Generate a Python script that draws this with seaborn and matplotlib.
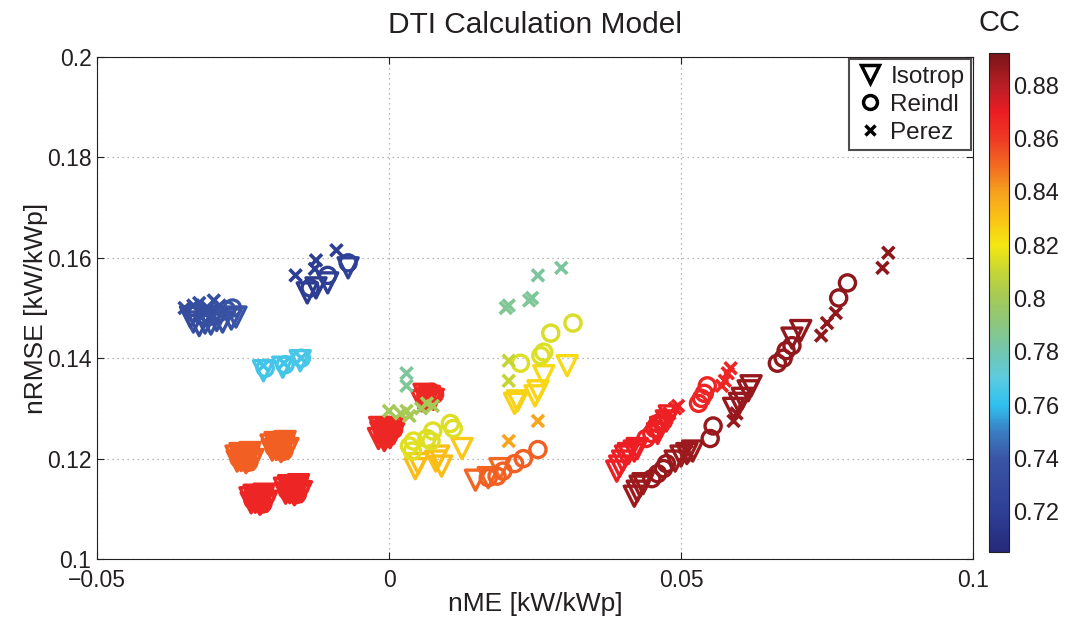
import numpy as np
import pandas as pd
import matplotlib
matplotlib.use("Agg")
import matplotlib.pyplot as plt
import seaborn as sns
from matplotlib.colors import LinearSegmentedColormap, Normalize
from matplotlib.lines import Line2D
from matplotlib.cm import ScalarMappable

# ---------------- data: (nME, nRMSE, CC) ----------------
isotrop = [
    # dark blue group
    (-0.0335, 0.1472, 0.735), (-0.0325, 0.1465, 0.733), (-0.0315, 0.1470, 0.734), (-0.0305, 0.1468, 0.735),
    (-0.0295, 0.1475, 0.736), (-0.0285, 0.1472, 0.737), (-0.0270, 0.1478, 0.738), (-0.0262, 0.1482, 0.739),
    (-0.0340, 0.1482, 0.733), (-0.0310, 0.1480, 0.735),
    (-0.0140, 0.1530, 0.718), (-0.0125, 0.1540, 0.718), (-0.0105, 0.1550, 0.720), (-0.0070, 0.1580, 0.722),
    (-0.0215, 0.1375, 0.765), (-0.0182, 0.1382, 0.765), (-0.0152, 0.1395, 0.766),
    # orange blobs
    (-0.0260, 0.1195, 0.852), (-0.0250, 0.1200, 0.852), (-0.0240, 0.1205, 0.852), (-0.0233, 0.1198, 0.852),
    (-0.0255, 0.1210, 0.852), (-0.0245, 0.1192, 0.852), (-0.0238, 0.1212, 0.852), (-0.0262, 0.1205, 0.852),
    (-0.0253, 0.1196, 0.852), (-0.0247, 0.1196, 0.852), (-0.0241, 0.1196, 0.852),
    (-0.0253, 0.1202, 0.852), (-0.0247, 0.1202, 0.852), (-0.0241, 0.1202, 0.852),
    (-0.0253, 0.1208, 0.852), (-0.0247, 0.1208, 0.852), (-0.0241, 0.1208, 0.852),
    (-0.0200, 0.1217, 0.852), (-0.0190, 0.1222, 0.852), (-0.0180, 0.1227, 0.852), (-0.0173, 0.1220, 0.852),
    (-0.0195, 0.1232, 0.852), (-0.0185, 0.1214, 0.852), (-0.0178, 0.1234, 0.852), (-0.0202, 0.1227, 0.852),
    (-0.0193, 0.1218, 0.852), (-0.0187, 0.1218, 0.852), (-0.0181, 0.1218, 0.852),
    (-0.0193, 0.1224, 0.852), (-0.0187, 0.1224, 0.852), (-0.0181, 0.1224, 0.852),
    (-0.0193, 0.1230, 0.852), (-0.0187, 0.1230, 0.852), (-0.0181, 0.1230, 0.852),
    # red blobs
    (-0.0236, 0.1112, 0.867), (-0.0226, 0.1117, 0.867), (-0.0216, 0.1122, 0.867), (-0.0209, 0.1115, 0.867),
    (-0.0231, 0.1127, 0.867), (-0.0221, 0.1109, 0.867), (-0.0214, 0.1129, 0.867), (-0.0238, 0.1122, 0.867),
    (-0.0229, 0.1113, 0.867), (-0.0223, 0.1113, 0.867), (-0.0217, 0.1113, 0.867),
    (-0.0229, 0.1119, 0.867), (-0.0223, 0.1119, 0.867), (-0.0217, 0.1119, 0.867),
    (-0.0229, 0.1125, 0.867), (-0.0223, 0.1125, 0.867), (-0.0217, 0.1125, 0.867),
    (-0.0177, 0.1131, 0.867), (-0.0167, 0.1136, 0.867), (-0.0157, 0.1141, 0.867), (-0.0150, 0.1134, 0.867),
    (-0.0172, 0.1146, 0.867), (-0.0162, 0.1128, 0.867), (-0.0155, 0.1148, 0.867), (-0.0179, 0.1141, 0.867),
    (-0.0170, 0.1132, 0.867), (-0.0164, 0.1132, 0.867), (-0.0158, 0.1132, 0.867),
    (-0.0170, 0.1138, 0.867), (-0.0164, 0.1138, 0.867), (-0.0158, 0.1138, 0.867),
    (-0.0170, 0.1144, 0.867), (-0.0164, 0.1144, 0.867), (-0.0158, 0.1144, 0.867),
    # around zero
    (-0.0018, 0.1240, 0.866), (-0.0008, 0.1236, 0.866), (0.0002, 0.1242, 0.866), (0.0008, 0.1250, 0.866),
    (-0.0014, 0.1252, 0.866), (-0.0004, 0.1258, 0.866), (0.0006, 0.1262, 0.866), (-0.0016, 0.1262, 0.866),
    (-0.0011, 0.1243, 0.866), (-0.0005, 0.1243, 0.866), (0.0001, 0.1243, 0.866),
    (-0.0011, 0.1249, 0.866), (-0.0005, 0.1249, 0.866), (0.0001, 0.1249, 0.866),
    (-0.0011, 0.1255, 0.866), (-0.0005, 0.1255, 0.866), (0.0001, 0.1255, 0.866),
    (0.0056, 0.1315, 0.866), (0.0066, 0.1320, 0.866), (0.0076, 0.1318, 0.866), (0.0060, 0.1328, 0.866),
    (0.0063, 0.1320, 0.866), (0.0069, 0.1324, 0.866), (0.0066, 0.1316, 0.866),
    (0.0045, 0.1180, 0.832), (0.0050, 0.1190, 0.832), (0.0080, 0.1195, 0.831), (0.0085, 0.1205, 0.831),
    (0.0090, 0.1185, 0.832), (0.0125, 0.1220, 0.828),
    (0.0148, 0.1157, 0.851), (0.0170, 0.1162, 0.851), (0.0190, 0.1180, 0.850),
    (0.0215, 0.1310, 0.826), (0.0220, 0.1315, 0.826), (0.0250, 0.1325, 0.825), (0.0255, 0.1335, 0.825),
    (0.0265, 0.1365, 0.824), (0.0305, 0.1385, 0.824),
    # red chain
    (0.0390, 0.1175, 0.869), (0.0395, 0.1185, 0.869), (0.0400, 0.1195, 0.869), (0.0405, 0.1205, 0.869),
    (0.0410, 0.1210, 0.869), (0.0420, 0.1215, 0.869), (0.0425, 0.1220, 0.869), (0.0460, 0.1250, 0.868),
    (0.0465, 0.1262, 0.868), (0.0475, 0.1275, 0.868), (0.0480, 0.1285, 0.868),
    # dark red chain
    (0.0420, 0.1125, 0.885), (0.0425, 0.1135, 0.885), (0.0430, 0.1145, 0.885), (0.0435, 0.1150, 0.885),
    (0.0490, 0.1195, 0.885), (0.0500, 0.1205, 0.885), (0.0510, 0.1210, 0.885), (0.0520, 0.1215, 0.885),
    (0.0590, 0.1300, 0.886), (0.0600, 0.1310, 0.886), (0.0605, 0.1320, 0.886), (0.0615, 0.1335, 0.886),
    (0.0620, 0.1345, 0.886), (0.0690, 0.1440, 0.887), (0.0705, 0.1455, 0.887),
]

reindl = [
    (-0.0332, 0.1490, 0.734), (-0.0318, 0.1486, 0.734), (-0.0305, 0.1484, 0.735), (-0.0292, 0.1490, 0.736),
    (-0.0278, 0.1496, 0.738), (-0.0268, 0.1500, 0.739),
    (-0.0135, 0.1540, 0.719), (-0.0105, 0.1565, 0.720), (-0.0070, 0.1590, 0.722),
    (-0.0212, 0.1380, 0.765), (-0.0178, 0.1387, 0.765), (-0.0150, 0.1400, 0.766),
    (-0.0250, 0.1203, 0.852), (-0.0242, 0.1197, 0.852), (-0.0235, 0.1208, 0.852), (-0.0257, 0.1200, 0.852),
    (-0.0246, 0.1212, 0.852), (-0.0240, 0.1193, 0.852),
    (-0.0190, 0.1225, 0.852), (-0.0182, 0.1219, 0.852), (-0.0175, 0.1230, 0.852), (-0.0197, 0.1222, 0.852),
    (-0.0186, 0.1234, 0.852), (-0.0180, 0.1215, 0.852),
    (-0.0226, 0.1120, 0.867), (-0.0218, 0.1114, 0.867), (-0.0211, 0.1125, 0.867), (-0.0233, 0.1117, 0.867),
    (-0.0222, 0.1129, 0.867), (-0.0216, 0.1110, 0.867),
    (-0.0167, 0.1139, 0.867), (-0.0159, 0.1133, 0.867), (-0.0152, 0.1144, 0.867), (-0.0174, 0.1136, 0.867),
    (-0.0163, 0.1148, 0.867), (-0.0157, 0.1129, 0.867),
    (-0.0010, 0.1245, 0.866), (0.0000, 0.1250, 0.866), (0.0008, 0.1258, 0.866), (-0.0012, 0.1258, 0.866),
    (0.0063, 0.1325, 0.866), (0.0073, 0.1332, 0.866), (0.0078, 0.1328, 0.866),
    (0.0035, 0.1225, 0.816), (0.0040, 0.1215, 0.816), (0.0065, 0.1240, 0.815), (0.0075, 0.1255, 0.815),
    (0.0072, 0.1235, 0.815), (0.0105, 0.1270, 0.815), (0.0110, 0.1260, 0.815), (0.0042, 0.1235, 0.816),
    (0.0170, 0.1162, 0.852), (0.0185, 0.1165, 0.852), (0.0195, 0.1175, 0.852), (0.0215, 0.1190, 0.852),
    (0.0230, 0.1200, 0.852), (0.0255, 0.1218, 0.852),
    (0.0225, 0.1390, 0.815), (0.0260, 0.1405, 0.815), (0.0265, 0.1412, 0.815), (0.0277, 0.1450, 0.814),
    (0.0315, 0.1470, 0.814),
    (0.0440, 0.1240, 0.868), (0.0450, 0.1250, 0.868), (0.0455, 0.1260, 0.868), (0.0460, 0.1270, 0.868),
    (0.0470, 0.1275, 0.868), (0.0530, 0.1310, 0.867), (0.0535, 0.1320, 0.867), (0.0540, 0.1330, 0.867),
    (0.0545, 0.1345, 0.867),
    (0.0450, 0.1160, 0.886), (0.0460, 0.1170, 0.886), (0.0470, 0.1180, 0.886), (0.0475, 0.1190, 0.886),
    (0.0550, 0.1240, 0.886), (0.0555, 0.1265, 0.886), (0.0665, 0.1390, 0.887), (0.0675, 0.1400, 0.887),
    (0.0680, 0.1415, 0.887), (0.0690, 0.1425, 0.887), (0.0770, 0.1520, 0.888), (0.0785, 0.1550, 0.888),
]

perez = [
    (-0.0350, 0.1500, 0.733), (-0.0335, 0.1505, 0.733), (-0.0325, 0.1510, 0.734), (-0.0310, 0.1500, 0.734),
    (-0.0300, 0.1515, 0.734), (-0.0290, 0.1505, 0.735),
    (-0.0160, 0.1565, 0.719), (-0.0125, 0.1595, 0.719), (-0.0127, 0.1578, 0.719), (-0.0090, 0.1615, 0.720),
    (-0.0215, 0.1385, 0.764), (-0.0180, 0.1390, 0.764), (-0.0150, 0.1400, 0.765),
    (-0.0248, 0.1203, 0.852), (-0.0240, 0.1207, 0.852), (-0.0252, 0.1198, 0.852), (-0.0236, 0.1200, 0.852),
    (-0.0188, 0.1225, 0.852), (-0.0180, 0.1229, 0.852), (-0.0192, 0.1220, 0.852), (-0.0176, 0.1222, 0.852),
    (-0.0224, 0.1120, 0.867), (-0.0216, 0.1124, 0.867), (-0.0228, 0.1115, 0.867), (-0.0212, 0.1117, 0.867),
    (-0.0165, 0.1139, 0.867), (-0.0157, 0.1143, 0.867), (-0.0169, 0.1134, 0.867), (-0.0153, 0.1136, 0.867),
    (-0.0005, 0.1250, 0.866), (0.0005, 0.1255, 0.866),
    (0.0068, 0.1330, 0.866), (0.0060, 0.1310, 0.866),
    (0.0000, 0.1295, 0.800), (0.0020, 0.1290, 0.801), (0.0035, 0.1285, 0.801), (0.0055, 0.1300, 0.800),
    (0.0065, 0.1310, 0.800), (0.0075, 0.1305, 0.801), (0.0030, 0.1295, 0.801),
    (0.0030, 0.1370, 0.784), (0.0030, 0.1345, 0.785),
    (0.0205, 0.1235, 0.838), (0.0255, 0.1275, 0.838),
    (0.0205, 0.1395, 0.810), (0.0205, 0.1355, 0.810),
    (0.0200, 0.1500, 0.786), (0.0205, 0.1505, 0.786), (0.0240, 0.1515, 0.785), (0.0245, 0.1520, 0.785),
    (0.0255, 0.1565, 0.784), (0.0295, 0.1580, 0.784),
    (0.0480, 0.1290, 0.868), (0.0490, 0.1300, 0.868), (0.0495, 0.1305, 0.868), (0.0570, 0.1345, 0.867),
    (0.0575, 0.1355, 0.867), (0.0580, 0.1370, 0.867), (0.0585, 0.1380, 0.867),
    (0.0505, 0.1205, 0.885), (0.0510, 0.1215, 0.885), (0.0590, 0.1275, 0.886), (0.0595, 0.1290, 0.886),
    (0.0740, 0.1445, 0.887), (0.0750, 0.1470, 0.887), (0.0765, 0.1490, 0.887), (0.0845, 0.1580, 0.888),
    (0.0855, 0.1610, 0.888),
]

models = ["Isotrop", "Reindl", "Perez"]
x_ticks = [-0.05, 0, 0.05, 0.1]
x_labels = ["\u22120.05", "0", "0.05", "0.1"]
y_ticks = [0.1, 0.12, 0.14, 0.16, 0.18, 0.2]
y_labels = ["0.1", "0.12", "0.14", "0.16", "0.18", "0.2"]
cb_ticks = [0.72, 0.74, 0.76, 0.78, 0.8, 0.82, 0.84, 0.86, 0.88]
cb_labels = ["0.72", "0.74", "0.76", "0.78", "0.8", "0.82", "0.84", "0.86", "0.88"]
cc_min, cc_max = 0.705, 0.892

# ---------------- style ----------------
cmap = LinearSegmentedColormap.from_list("cc", [
    (0.000, "#262a7a"), (0.080, "#2e3f95"), (0.187, "#3a55a5"),
    (0.240, "#3a7dc2"), (0.294, "#30c0ef"), (0.348, "#5ccbe0"),
    (0.401, "#73c6b0"), (0.455, "#8cc780"), (0.508, "#a3c95a"),
    (0.561, "#c5d535"), (0.615, "#f4e813"), (0.668, "#fbc315"),
    (0.722, "#f6a01e"), (0.775, "#f26b22"), (0.829, "#ee3a25"),
    (0.882, "#ed1c24"), (0.936, "#b81e25"), (1.000, "#7a1416")])
norm = Normalize(cc_min, cc_max)

sns.set_theme(style="white")
plt.rcParams["font.family"] = ["Liberation Sans", "DejaVu Sans"]
txt = "#231f20"

fig = plt.figure(figsize=(10.67, 6.18), dpi=100)
ax = fig.add_axes([97/1067, 1-559/618, 876/1067, 502/618])

frames = []
for m, pts in zip(models, [isotrop, reindl, perez]):
    d = pd.DataFrame(pts, columns=["x", "y", "cc"])
    d["model"] = m
    frames.append(d)
df = pd.concat(frames, ignore_index=True)

spec = {"Isotrop": ("v", 210, 2.4), "Reindl": ("o", 135, 2.4), "Perez": ("x", 75, 2.6)}
for m in models:
    sub = df[df["model"] == m]
    mk, s, lw = spec[m]
    n0 = len(ax.collections)
    sns.scatterplot(data=sub, x="x", y="y", hue="cc", palette=cmap, hue_norm=norm,
                    marker=mk, s=s, linewidth=lw, legend=False, ax=ax)
    coll = ax.collections[n0]
    cols = cmap(norm(sub["cc"].to_numpy()))
    coll.set_facecolors("none")
    coll.set_edgecolors(cols)
    coll.set_linewidths(lw)

ax.set_xlim(-0.05, 0.1)
ax.set_ylim(0.1, 0.2)
ax.set_xticks(x_ticks)
ax.set_xticklabels(x_labels)
ax.set_yticks(y_ticks)
ax.set_yticklabels(y_labels)
ax.tick_params(direction="in", length=5, width=0.8, colors=txt, labelsize=16.5,
               top=True, right=True, bottom=True, left=True)
ax.tick_params(axis="x", pad=7)
ax.tick_params(axis="y", pad=4)
ax.grid(True, linestyle=(0, (1, 3)), color="#a0a0a0", linewidth=0.9)
for sp in ax.spines.values():
    sp.set_visible(True)
    sp.set_color(txt)
    sp.set_linewidth(0.8)
ax.set_xlabel("nME [kW/kWp]", fontsize=19, color=txt, labelpad=0)
ax.set_ylabel("nRMSE [kW/kWp]", fontsize=19, color=txt, labelpad=-1)
ax.set_title("DTI Calculation Model", fontsize=21.5, color=txt, pad=17)

handles = [Line2D([], [], marker="v", linestyle="none", markerfacecolor="none",
                  markeredgecolor="black", markeredgewidth=2.5, markersize=13),
           Line2D([], [], marker="o", linestyle="none", markerfacecolor="none",
                  markeredgecolor="black", markeredgewidth=2.5, markersize=10),
           Line2D([], [], marker="x", linestyle="none", color="black",
                  markeredgewidth=2.5, markersize=7.5)]
leg = ax.legend(handles, models, loc="upper right", fontsize=17.5, frameon=True,
                fancybox=False, borderpad=0.25, handletextpad=0.25, labelspacing=0.25,
                handlelength=1.2, borderaxespad=0.1)
leg.get_frame().set_edgecolor(txt)
leg.get_frame().set_linewidth(1.5)
for t in leg.get_texts():
    t.set_color(txt)

cax = fig.add_axes([989/1067, 1-552/618, 20/1067, 499/618])
sm = ScalarMappable(norm=norm, cmap=cmap)
cb = fig.colorbar(sm, cax=cax)
cb.set_ticks(cb_ticks)
cb.set_ticklabels(cb_labels)
cax.tick_params(direction="in", length=4, colors=txt, labelsize=17, pad=3)
cb.outline.set_edgecolor(txt)
cb.outline.set_linewidth(0.8)
cax.set_title("CC", fontsize=21, color=txt, pad=16)

fig.savefig("out.png", dpi=100)
